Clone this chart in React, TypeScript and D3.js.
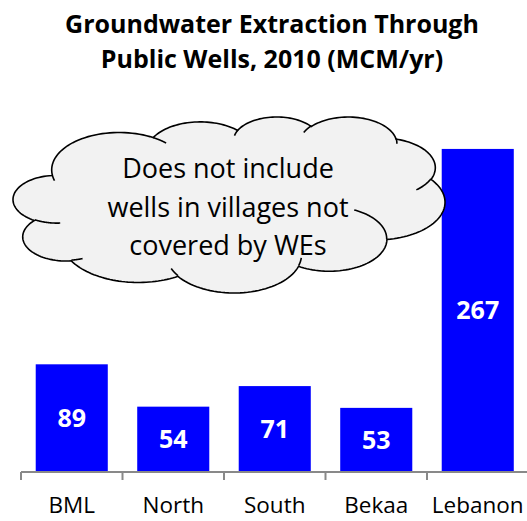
import React from "react";
import * as d3 from "d3";

const categories = ["BML", "North", "South", "Bekaa", "Lebanon"];
const values = [89, 54, 71, 53, 267];
const titleLines = ["Groundwater Extraction Through", "Public Wells, 2010 (MCM/yr)"];
const noteLines = ["Does not include", "wells in villages not", "covered by WEs"];

const W = 527;
const H = 521;
const FONT = "'Open Sans', Lato, sans-serif";

// OOXML preset "cloud" geometry (path units 43200 x 43200)
const cloudStart: [number, number] = [3900, 14370];
const cloudArcs: [number, number, number, number][] = [
  [6753, 9190, -11429249, 7426832],
  [5333, 7267, -8646143, 5396714],
  [4365, 5945, -8748475, 5983381],
  [4857, 6595, -7859164, 7034504],
  [5333, 7273, -4722533, 6541615],
  [6775, 9220, -2776035, 7816140],
  [5785, 7867, 37501, 6842000],
  [6752, 9215, 1347096, 6910353],
  [7720, 10543, 3974558, 4542661],
  [4360, 5918, -16496525, 8804134],
  [4345, 5945, -14809710, 9151131],
];
const cloudInner: [number, number, number, number, number, number][] = [
  [4693, 26177, 4345, 5945, 5204520, 1585770],
  [6928, 34899, 4360, 5918, 4416628, 686848],
  [16478, 39090, 6752, 9215, 8257449, 844866],
  [28827, 34751, 6752, 9215, 387196, 959901],
  [34129, 22954, 5785, 7867, -4217541, 4255042],
  [41798, 15354, 5333, 7273, 1819082, 1665090],
  [38324, 5426, 4857, 6595, -824660, 891145],
  [29078, 3952, 4857, 6595, -8950887, 1091579],
  [22141, 4720, 4365, 5945, -9809656, 1061080],
  [14000, 5192, 6753, 9190, -4002417, 739161],
  [4127, 15789, 6753, 9190, 9459261, 711490],
];

function arcPts(cur: [number, number], wR: number, hR: number, st: number, sw: number) {
  const rad = (a: number) => (a / 60000) * (Math.PI / 180);
  const param = (a: number) => {
    const p = Math.atan2(wR * Math.sin(a), hR * Math.cos(a));
    return p + 2 * Math.PI * Math.round((a - p) / (2 * Math.PI));
  };
  const t1 = param(rad(st));
  const t2 = param(rad(st + sw));
  const cx = cur[0] - wR * Math.cos(t1);
  const cy = cur[1] - hR * Math.sin(t1);
  const n = 40;
  const pts: [number, number][] = [];
  for (let i = 1; i <= n; i++) {
    const t = t1 + ((t2 - t1) * i) / n;
    pts.push([cx + wR * Math.cos(t), cy + hR * Math.sin(t)]);
  }
  return pts;
}

function buildCloud(box: { x0: number; y0: number; x1: number; y1: number }) {
  const outer: [number, number][] = [cloudStart];
  let cur = cloudStart;
  for (const [wR, hR, st, sw] of cloudArcs) {
    const p = arcPts(cur, wR, hR, st, sw);
    outer.push(...p);
    cur = p[p.length - 1];
  }
  const inner = cloudInner.map(([x, y, wR, hR, st, sw]) => [[x, y] as [number, number], ...arcPts([x, y], wR, hR, st, sw)]);
  const xs = d3.extent(outer, (d) => d[0]) as [number, number];
  const ys = d3.extent(outer, (d) => d[1]) as [number, number];
  const sx = d3.scaleLinear().domain(xs).range([box.x0, box.x1]);
  const sy = d3.scaleLinear().domain(ys).range([box.y0, box.y1]);
  const line = d3.line<[number, number]>().x((d) => sx(d[0])).y((d) => sy(d[1]));
  return { outer: line(outer) + "Z", inner: inner.map((pts) => line(pts) as string) };
}

export default function App() {
  const axisY = 472;
  const x = d3.scaleBand<string>().domain(categories).range([21, 528.5]).paddingInner(0.29).paddingOuter(0.145);
  const band = d3.scaleBand<string>().domain(categories).range([21, 528.5]);
  const y = d3.scaleLinear().domain([0, 300]).range([axisY, 109]);
  const cloud = buildCloud({ x0: 13, y0: 117, x1: 445, y1: 293 });
  const boundaries = [...categories.map((c) => band(c) as number), 528.5];

  return (
    <svg width={W} height={H} style={{ position: "absolute", left: 0, top: 0, background: "#fff" }}>
      <g fontFamily={FONT} fontWeight="bold" fontSize={25} textAnchor="middle" fill="#000">
        {titleLines.map((t, i) => (
          <text key={i} x={272} y={33 + i * 35}>
            {t}
          </text>
        ))}
      </g>
      {categories.map((c, i) => (
        <rect key={c} x={x(c)} y={y(values[i])} width={x.bandwidth()} height={axisY - y(values[i])} fill="#0000FF" />
      ))}
      <line x1={21} x2={528.5} y1={axisY} y2={axisY} stroke="#898989" strokeWidth={2} />
      {boundaries.map((b, i) => (
        <line key={i} x1={b} x2={b} y1={axisY} y2={axisY + 8} stroke="#898989" strokeWidth={2} />
      ))}
      {categories.map((c, i) => (
        <text
          key={c}
          x={(x(c) as number) + x.bandwidth() / 2}
          y={y(values[i] / 2)}
          dy="0.36em"
          textAnchor="middle"
          fontFamily={FONT}
          fontWeight="bold"
          fontSize={25}
          fill="#fff"
        >
          {values[i]}
        </text>
      ))}
      {categories.map((c) => (
        <text key={c} x={(band(c) as number) + band.bandwidth() / 2} y={513} textAnchor="middle" fontFamily={FONT} fontSize={22.5} fill="#000">
          {c}
        </text>
      ))}
      <path d={cloud.outer} fill="#F2F2F2" stroke="#000" strokeWidth={1.6} />
      {cloud.inner.map((d, i) => (
        <path key={i} d={d} fill="none" stroke="#000" strokeWidth={1.6} />
      ))}
      <g fontFamily={FONT} fontSize={27} textAnchor="middle" fill="#000">
        {noteLines.map((t, i) => (
          <text key={i} x={228} y={178 + i * 38.5}>
            {t}
          </text>
        ))}
      </g>
    </svg>
  );
}
